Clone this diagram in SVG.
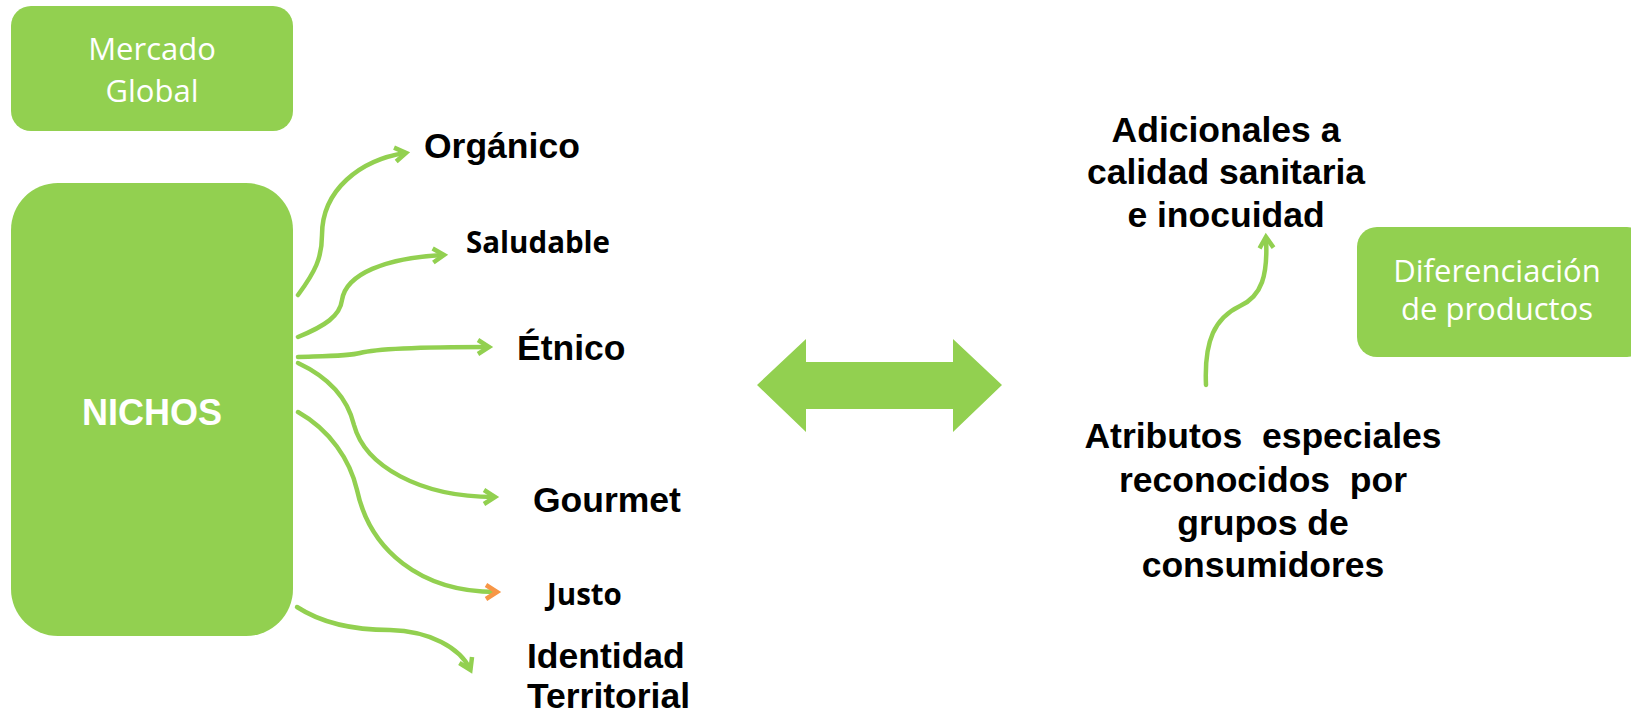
<svg xmlns="http://www.w3.org/2000/svg" width="1631" height="716" viewBox="0 0 1631 716">
<style>
.box{fill:#92D050}
.wt{fill:#fff;font-family:"Open Sans",sans-serif;font-size:31px;text-anchor:middle}
.bt{fill:#000;font-family:"Liberation Sans",Arial,sans-serif;font-weight:bold;font-size:35.5px}
.ot{fill:#000;font-family:"Open Sans",sans-serif;font-weight:bold;font-size:29.5px}
.c{fill:none;stroke:#92D050;stroke-width:4.5;stroke-linecap:round}
</style>
<defs>
<marker id="ag" markerUnits="userSpaceOnUse" markerWidth="20" markerHeight="20" refX="12" refY="8" orient="auto" viewBox="0 0 20 16">
<path d="M2,1 L13,8 L2,15" fill="none" stroke="#92D050" stroke-width="4.5"/>
</marker>
<marker id="ao" markerUnits="userSpaceOnUse" markerWidth="20" markerHeight="20" refX="12" refY="8" orient="auto" viewBox="0 0 20 16">
<path d="M2,1 L13,8 L2,15" fill="none" stroke="#F79646" stroke-width="4.5"/>
</marker>
</defs>
<g id="mercado-global">
<rect class="box" x="11" y="6" width="282" height="125" rx="20"/>
<text class="wt" x="152" y="60">Mercado</text>
<text class="wt" x="152" y="102">Global</text>
</g>
<g id="nichos">
<rect class="box" x="11" y="183" width="282" height="453" rx="47"/>
<text x="152" y="425" fill="#fff" font-family="Liberation Sans, Arial, sans-serif" font-weight="bold" font-size="36" text-anchor="middle">NICHOS</text>
</g>
<g id="organico"><text class="bt" x="424" y="158">Orgánico</text></g>
<g id="saludable"><text class="ot" x="466" y="253">Saludable</text></g>
<g id="etnico"><text class="bt" x="517" y="360">Étnico</text></g>
<g id="gourmet"><text class="bt" x="533" y="512">Gourmet</text></g>
<g id="justo"><text class="ot" x="547" y="605">Justo</text></g>
<g id="identidad-territorial">
<text class="bt" x="527" y="668">Identidad</text>
<text class="bt" x="527" y="708">Territorial</text>
</g>
<g id="doble-flecha">
<polygon points="757,385 806,339 806,362 953,362 953,339 1002,385 953,432 953,409 806,409 806,432" fill="#92D050"/>
</g>
<g id="adicionales">
<text class="bt" x="1226" y="142" text-anchor="middle">Adicionales a</text>
<text class="bt" x="1226" y="184" text-anchor="middle">calidad sanitaria</text>
<text class="bt" x="1226" y="227" text-anchor="middle">e inocuidad</text>
</g>
<g id="diferenciacion">
<rect class="box" x="1357" y="227" width="290" height="130" rx="20"/>
<text class="wt" x="1497" y="282">Diferenciación</text>
<text class="wt" x="1497" y="320">de productos</text>
</g>
<g id="atributos">
<text class="bt" x="1263" y="448" text-anchor="middle" xml:space="preserve">Atributos  especiales</text>
<text class="bt" x="1263" y="492" text-anchor="middle" xml:space="preserve">reconocidos  por</text>
<text class="bt" x="1263" y="535" text-anchor="middle">grupos de</text>
<text class="bt" x="1263" y="577" text-anchor="middle">consumidores</text>
</g>
<g id="connectors">
<path class="c" marker-end="url(#ag)" d="M298,295 C315,272 322,258 322,235 C322,190 360,160 405,153"/>
<path class="c" marker-end="url(#ag)" d="M298,337 C325,326 340,316 342,300 C346,274 385,258 443,255"/>
<path class="c" marker-end="url(#ag)" d="M298,357 C330,356 350,356 360,353 C375,349 430,347 488,347"/>
<path class="c" marker-end="url(#ag)" d="M298,363 C330,378 348,400 354,425 C365,466 420,497 494,497"/>
<path class="c" marker-end="url(#ao)" d="M298,412 C330,430 350,460 357,490 C370,550 420,592 496,592"/>
<path class="c" marker-end="url(#ag)" d="M297,607 C320,622 350,630 390,630 C430,631 460,648 470,669"/>
<path class="c" marker-end="url(#ag)" d="M1206,385 C1204,340 1215,318 1240,306 C1262,296 1268,275 1266,238"/>
</g>
</svg>
